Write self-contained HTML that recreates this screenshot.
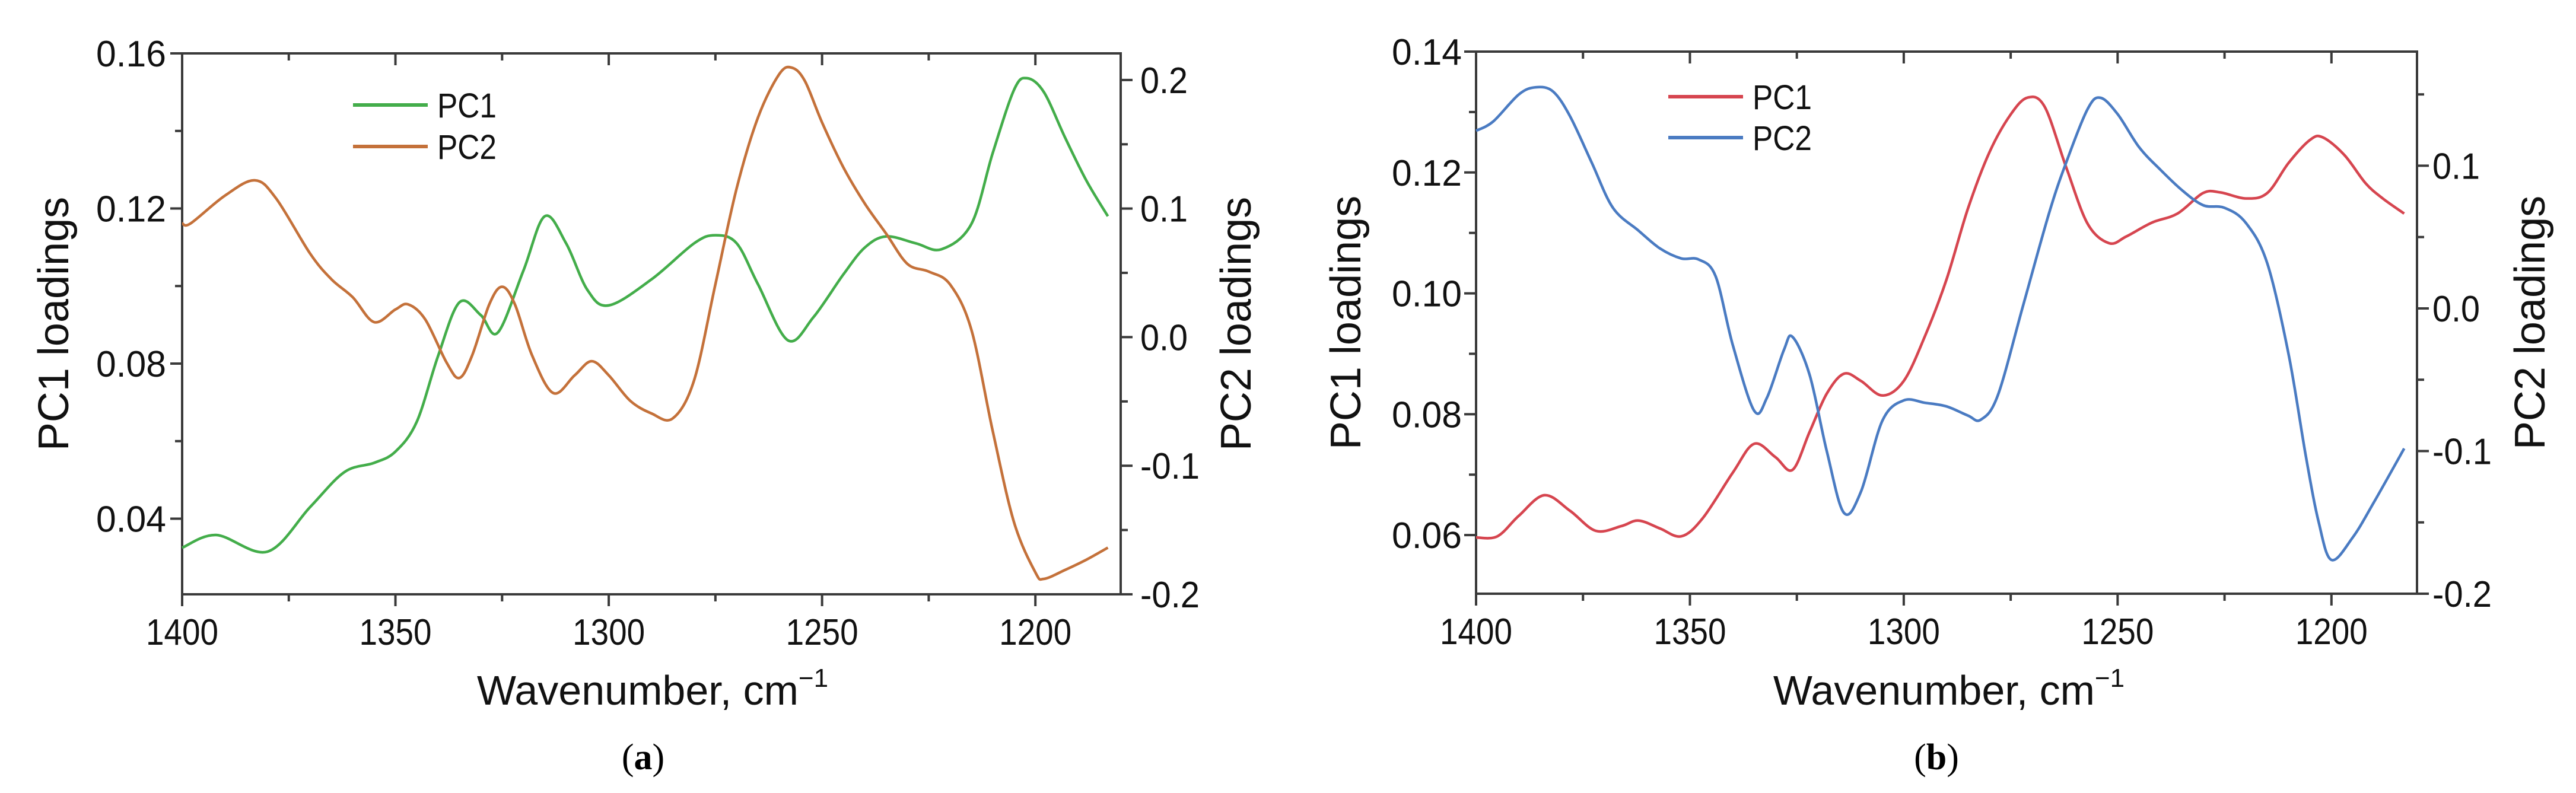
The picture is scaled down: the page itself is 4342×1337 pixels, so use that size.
<!DOCTYPE html>
<html><head><meta charset="utf-8">
<style>
html,body{margin:0;padding:0;background:#fff;}
svg{display:block;font-family:"Liberation Sans",Arial,sans-serif;}
</style></head>
<body>
<svg id="fig" width="4342" height="1337" viewBox="0 0 4342 1337" xmlns="http://www.w3.org/2000/svg"></svg>
<script>
// ---- Panel (a) data ----
const xTicks = [1400, 1350, 1300, 1250, 1200];
const aLeftTicks = [0.04, 0.08, 0.12, 0.16];
const aRightTicks = [-0.2, -0.1, 0.0, 0.1, 0.2];
const aPC1wn = [1400,1392,1380,1370,1362,1355,1350,1345,1340,1335,1330,1326,1320,1315,1310,1305,1300,1290,1280,1275,1270,1265,1258,1252,1245,1240,1235,1228,1222,1215,1210,1205,1202,1198,1193,1188,1183];
const aPC1val = [0.0325,0.0358,0.0315,0.043,0.052,0.0544,0.0573,0.065,0.082,0.0958,0.0925,0.088,0.104,0.118,0.111,0.099,0.095,0.1017,0.111,0.1131,0.111,0.1004,0.086,0.092,0.103,0.1099,0.1128,0.111,0.1095,0.116,0.1343,0.1506,0.1536,0.150,0.1382,0.1271,0.118];
const aPC2wn = [1400,1398,1390,1383,1378,1370,1365,1360,1355,1350,1347,1343,1338,1335,1332,1328,1325,1322,1318,1313,1308,1304,1300,1295,1290,1285,1280,1275,1270,1265,1260,1257,1254,1250,1245,1240,1235,1230,1225,1220,1215,1210,1205,1200,1198,1193,1188,1183];
const aPC2val = [0.0885,0.0885,0.110,0.122,0.108,0.065,0.045,0.031,0.0117,0.0215,0.0255,0.0137,-0.0198,-0.0317,-0.014,0.0255,0.0392,0.0255,-0.014,-0.0435,-0.0297,-0.0187,-0.0297,-0.0494,-0.0593,-0.0632,-0.0336,0.0412,0.116,0.171,0.2047,0.2095,0.199,0.167,0.132,0.104,0.0806,0.057,0.051,0.041,0.0058,-0.073,-0.144,-0.183,-0.188,-0.181,-0.173,-0.1637];
// ---- Panel (b) data ----
const bLeftTicks = [0.06, 0.08, 0.10, 0.12, 0.14];
const bRightTicks = [-0.2, -0.1, 0.0, 0.1];
const bPC1wn = [1400,1395,1390,1384,1378,1372,1366,1362,1357,1352,1347,1340,1335,1330,1326,1322,1318,1314,1310,1305,1300,1295,1290,1285,1280,1275,1271,1267,1262,1257,1252,1248,1242,1236,1230,1226,1220,1215,1210,1205,1202,1197,1192,1188,1183];
const bPC1val = [0.0596,0.0598,0.0632,0.0666,0.064,0.0607,0.0615,0.0624,0.0611,0.0598,0.0628,0.0703,0.0751,0.0729,0.0708,0.0771,0.0834,0.0867,0.0855,0.0831,0.0855,0.093,0.1023,0.114,0.1233,0.1296,0.1324,0.1308,0.1208,0.1115,0.1083,0.1094,0.1117,0.1132,0.1166,0.1167,0.1157,0.1166,0.1216,0.1254,0.1258,0.1229,0.1182,0.1157,0.1132];
const bPC2wn = [1400,1396,1390,1386,1382,1378,1373,1368,1362,1357,1352,1348,1344,1340,1335,1332,1328,1326,1322,1318,1314,1310,1305,1300,1295,1290,1285,1282,1278,1272,1266,1262,1257,1254,1250,1245,1240,1235,1230,1225,1220,1215,1210,1206,1203,1200,1195,1190,1183];
const bPC2val = [0.1245,0.131,0.150,0.155,0.152,0.1345,0.1025,0.0705,0.0545,0.042,0.035,0.0343,0.0226,-0.0254,-0.0716,-0.0627,-0.0289,-0.02,-0.0467,-0.1,-0.1433,-0.1284,-0.0787,-0.0645,-0.0662,-0.0687,-0.0751,-0.078,-0.0609,0.0031,0.067,0.1025,0.1398,0.1476,0.1362,0.1131,0.0972,0.083,0.0723,0.0705,0.0599,0.0315,-0.0325,-0.1035,-0.1497,-0.1763,-0.1604,-0.1355,-0.0982];

const NS = "http://www.w3.org/2000/svg";
const svg = document.getElementById('fig');
function mk(tag, attrs, parent) {
  const e = document.createElementNS(NS, tag);
  for (const k in attrs) e.setAttribute(k, attrs[k]);
  (parent || svg).appendChild(e);
  return e;
}
function smoothPath(pts) {
  let d = "M" + pts[0][0].toFixed(1) + "," + pts[0][1].toFixed(1);
  for (let i = 0; i < pts.length - 1; i++) {
    const p0 = pts[Math.max(0, i - 1)], p1 = pts[i], p2 = pts[i + 1], p3 = pts[Math.min(pts.length - 1, i + 2)];
    const c1x = p1[0] + (p2[0] - p0[0]) / 6, c1y = p1[1] + (p2[1] - p0[1]) / 6;
    const c2x = p2[0] - (p3[0] - p1[0]) / 6, c2y = p2[1] - (p3[1] - p1[1]) / 6;
    d += " C" + c1x.toFixed(1) + "," + c1y.toFixed(1) + " " + c2x.toFixed(1) + "," + c2y.toFixed(1) + " " + p2[0].toFixed(1) + "," + p2[1].toFixed(1);
  }
  return d;
}
const AX = "#3a3a3a";
function panel(cfg) {
  const g = mk('g', {});
  
  
  const L = cfg.L, R = cfg.R, T = cfg.T, B = cfg.B;
  const xs = wn => L + (1400 - wn) / (1400 - 1180) * (R - L);
  const yl = v => B - (v - cfg.lmin) / (cfg.lmax - cfg.lmin) * (B - T);
  const yr = v => B - (v - cfg.rmin) / (cfg.rmax - cfg.rmin) * (B - T);
  // frame
  const fr = mk('rect', {x: L, y: T, width: R - L, height: B - T, fill: 'none', stroke: AX, 'stroke-width': 4}, g);
  
  
  // x ticks
  for (let wn = 1400; wn >= 1180; wn -= 25) {
    const x = xs(wn), major = wn % 50 === 0;
    mk('line', {x1: x, x2: x, y1: B, y2: B + (major ? 20 : 12), stroke: AX, 'stroke-width': 4}, g);
    mk('line', {x1: x, x2: x, y1: T, y2: T + (major ? 20 : 12), stroke: AX, 'stroke-width': 4}, g);
  }
  xTicks.forEach(v => {
    const t = mk('text', {x: xs(v), y: B + 85, 'font-size': 62, 'text-anchor': 'middle', fill: '#111', textLength: 122, lengthAdjust: 'spacingAndGlyphs'}, g);
    t.textContent = v;
    
    
  });
  // left ticks
  const lstep = cfg.lticks[1] - cfg.lticks[0];
  for (let v = cfg.lticks[0] - lstep; v <= cfg.lmax + 1e-9; v += lstep / 2) {
    if (v < cfg.lmin - 1e-9) continue;
    const y = yl(v), major = Math.abs(Math.round((v - cfg.lticks[0]) / lstep) * lstep - (v - cfg.lticks[0])) < 1e-9;
    mk('line', {x1: L - (major ? 20 : 12), x2: L, y1: y, y2: y, stroke: AX, 'stroke-width': 4}, g);
  }
  cfg.lticks.forEach(v => {
    const t = mk('text', {x: cfg.lLabX, y: yl(v) + 22, 'font-size': 62, 'text-anchor': 'end', fill: '#111', textLength: 118, lengthAdjust: 'spacingAndGlyphs'}, g);
    t.textContent = v.toFixed(2);
    
    
  });
  // right ticks
  const rstep = 0.1;
  for (let v = cfg.rmin; v <= cfg.rmax + 1e-9; v += rstep / 2) {
    const y = yr(v), major = Math.abs(Math.round(v * 10) - v * 10) < 1e-6;
    mk('line', {x1: R, x2: R + (major ? 20 : 12), y1: y, y2: y, stroke: AX, 'stroke-width': 4}, g);
  }
  cfg.rticks.forEach(v => {
    const s = v.toFixed(1);
    const t = mk('text', {x: cfg.rLabX, y: yr(v) + 22, 'font-size': 62, 'text-anchor': 'start', fill: '#111', textLength: s.length > 3 ? 100 : 80, lengthAdjust: 'spacingAndGlyphs'}, g);
    t.textContent = s;
    
    
  });
  // series
  const p1 = mk('path', {d: smoothPath(cfg.pc1wn.map((w, i) => [xs(w), yl(cfg.pc1val[i])])), fill: 'none', stroke: cfg.c1, 'stroke-width': 4.5, 'stroke-linejoin': 'round'}, g);
  
  
  const p2 = mk('path', {d: smoothPath(cfg.pc2wn.map((w, i) => [xs(w), yr(cfg.pc2val[i])])), fill: 'none', stroke: cfg.c2, 'stroke-width': 4.5, 'stroke-linejoin': 'round'}, g);
  
  
  // legend
  [[cfg.c1, 'PC1', cfg.legY1], [cfg.c2, 'PC2', cfg.legY2]].forEach(([c, lab, y]) => {
    const lg = mk('g', {}, g);
    
    
    mk('line', {x1: cfg.legX, x2: cfg.legX + 126, y1: y, y2: y, stroke: c, 'stroke-width': 6}, lg);
    const t = mk('text', {x: cfg.legX + 142, y: y + 21, 'font-size': 58, fill: '#111', textLength: 100, lengthAdjust: 'spacingAndGlyphs'}, lg);
    t.textContent = lab;
  });
  // titles
  const xt = mk('text', {x: cfg.xTitleX, y: 1188, 'font-size': 70, 'text-anchor': 'middle', fill: '#111'}, g);
  
  
  xt.innerHTML = 'Wavenumber, cm<tspan dy="-30" font-size="44">\u22121</tspan>';
  const lt = mk('text', {x: 0, y: 0, 'font-size': 72, 'text-anchor': 'middle', fill: '#111', transform: 'translate(' + (cfg.lTitleX + 25) + ',' + ((T + B) / 2) + ') rotate(-90)'}, g);
  lt.textContent = 'PC1 loadings';
  
  
  const rt = mk('text', {x: 0, y: 0, 'font-size': 72, 'text-anchor': 'middle', fill: '#111', transform: 'translate(' + (cfg.rTitleX + 25) + ',' + ((T + B) / 2) + ') rotate(-90)'}, g);
  rt.textContent = 'PC2 loadings';
  
  
  const cap = mk('text', {x: cfg.capX, y: 1297, 'font-size': 62, 'text-anchor': 'middle', fill: '#000', 'font-family': '"Liberation Serif", serif'}, g);
  cap.innerHTML = '(<tspan font-weight="bold">' + cfg.cap + '</tspan>)';
  
  
}
panel({name: 'panel-a', L: 307, R: 1889, T: 90, B: 1002, lmin: 0.0205, lmax: 0.16, rmin: -0.2, rmax: 0.2207,
  lticks: aLeftTicks, rticks: aRightTicks, lLabX: 280, rLabX: 1922,
  pc1wn: aPC1wn, pc1val: aPC1val, pc2wn: aPC2wn, pc2val: aPC2val, c1: '#43ad4a', c2: '#c4713a',
  legX: 595, legY1: 177, legY2: 247, xTitleX: 1100, lTitleX: 90, rTitleX: 2083, capX: 1084, cap: 'a'});
panel({name: 'panel-b', L: 2488, R: 4074, T: 87, B: 1001, lmin: 0.0503, lmax: 0.14, rmin: -0.2, rmax: 0.18,
  lticks: bLeftTicks, rticks: bRightTicks, lLabX: 2464, rLabX: 4100,
  pc1wn: bPC1wn, pc1val: bPC1val, pc2wn: bPC2wn, pc2val: bPC2val, c1: '#d6454f', c2: '#4a7bc2',
  legX: 2812, legY1: 163, legY2: 232, xTitleX: 3285, lTitleX: 2268, rTitleX: 4264, capX: 3264, cap: 'b'});
</script>
</body></html>
